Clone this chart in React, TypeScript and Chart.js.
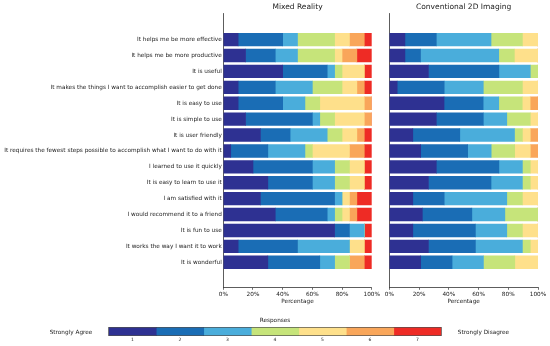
import React, { useEffect, useRef } from "react";
import { Chart, registerables } from "chart.js";

Chart.register(...registerables);

const FONT = "'DejaVu Sans', 'Liberation Sans', sans-serif";
const TEXT = "#222";
const AXIS = "#333";

// Statements (categories), top to bottom
const statements = [
  "It helps me be more effective",
  "It helps me be more productive",
  "It is useful",
  "It makes the things I want to accomplish easier to get done",
  "It is easy to use",
  "It is simple to use",
  "It is user friendly",
  "It requires the fewest steps possible to accomplish what I want to do with it",
  "I learned to use it quickly",
  "It is easy to learn to use it",
  "I am satisfied with it",
  "I would recommend it to a friend",
  "It is fun to use",
  "It works the way I want it to work",
  "It is wonderful",
];

const responseLevels = ["1", "2", "3", "4", "5", "6", "7"];
const levelColors = ["#2e3192", "#1a6db5", "#4aaddb", "#c6e47a", "#fee08b", "#f9a65a", "#ee2b25"];
const xTickValues = [0, 20, 40, 60, 80, 100];

const panelTitles = ["Mixed Reality", "Conventional 2D Imaging"];
const xAxisTitle = "Percentage";
const colorbarTitle = "Responses";
const agreeLabel = "Strongly Agree";
const disagreeLabel = "Strongly Disagree";

// Mixed Reality — percentage of responses per level (one array per level)
const mrLevel1 = [10, 15, 40, 10, 10, 15, 25, 5, 20, 30, 25, 35, 75, 10, 30];
const mrLevel2 = [30, 20, 30, 25, 30, 45, 20, 25, 40, 30, 50, 35, 10, 40, 35];
const mrLevel3 = [10, 15, 5, 25, 15, 5, 25, 25, 15, 15, 5, 5, 10, 35, 10];
const mrLevel4 = [25, 25, 5, 20, 10, 10, 10, 5, 10, 10, 0, 5, 0, 0, 10];
const mrLevel5 = [10, 5, 15, 10, 30, 20, 10, 25, 10, 10, 5, 5, 0, 10, 0];
const mrLevel6 = [10, 10, 0, 5, 5, 5, 5, 10, 0, 0, 5, 5, 0, 0, 10];
const mrLevel7 = [5, 10, 5, 5, 0, 0, 5, 5, 5, 5, 10, 10, 5, 5, 5];

// Conventional 2D Imaging — percentage of responses per level
const cvLevel1 = [10.5, 10.5, 26.3, 5.3, 36.8, 31.6, 15.8, 21.1, 31.6, 26.3, 15.8, 22.2, 15.8, 26.3, 21.1];
const cvLevel2 = [21.1, 10.5, 47.4, 31.6, 26.3, 31.6, 31.6, 31.6, 42.1, 42.1, 21.1, 33.3, 42.1, 31.6, 21.1];
const cvLevel3 = [36.8, 52.6, 21.1, 26.3, 10.5, 15.8, 36.8, 15.8, 15.8, 21.1, 42.1, 22.2, 21.1, 31.6, 21.1];
const cvLevel4 = [21.1, 10.5, 5.3, 26.3, 15.8, 15.8, 5.3, 15.8, 5.3, 5.3, 10.5, 22.2, 10.5, 5.3, 21.1];
const cvLevel5 = [10.5, 15.8, 0, 10.5, 5.3, 5.3, 5.3, 10.5, 5.3, 5.3, 10.5, 0, 10.5, 5.3, 15.8];
const cvLevel6 = [0, 0, 0, 0, 5.3, 0, 5.3, 5.3, 0, 0, 0, 0, 0, 0, 0];
const cvLevel7 = [0, 0, 0, 0, 0, 0, 0, 0, 0, 0, 0, 0, 0, 0, 0];

const mrSeries = [mrLevel1, mrLevel2, mrLevel3, mrLevel4, mrLevel5, mrLevel6, mrLevel7];
const cvSeries = [cvLevel1, cvLevel2, cvLevel3, cvLevel4, cvLevel5, cvLevel6, cvLevel7];

const panelTitlePlugin = {
  id: "panelTitle",
  afterDraw(chart: any, _args: any, opts: any) {
    const { ctx, chartArea } = chart;
    ctx.save();
    ctx.font = `7.5px ${FONT}`;
    ctx.fillStyle = TEXT;
    ctx.textAlign = "center";
    ctx.textBaseline = "middle";
    ctx.fillText(opts.text, (chartArea.left + chartArea.right) / 2, opts.y);
    ctx.restore();
  },
};

const colorbarDecorPlugin = {
  id: "colorbarDecor",
  afterDraw(chart: any) {
    const { ctx, chartArea } = chart;
    ctx.save();
    ctx.strokeStyle = AXIS;
    ctx.lineWidth = 0.6;
    ctx.strokeRect(chartArea.left, chartArea.top, chartArea.right - chartArea.left, chartArea.bottom - chartArea.top);
    ctx.font = `5.75px ${FONT}`;
    ctx.fillStyle = TEXT;
    ctx.textAlign = "center";
    ctx.textBaseline = "middle";
    const midY = (chartArea.top + chartArea.bottom) / 2;
    ctx.fillText(colorbarTitle, (chartArea.left + chartArea.right) / 2, chartArea.top - 7.3);
    ctx.fillText(agreeLabel, chartArea.left - 37.7, midY + 0.5);
    ctx.fillText(disagreeLabel, chartArea.right + 42.2, midY + 0.5);
    ctx.restore();
  },
};

function makePanel(canvas: HTMLCanvasElement, series: number[][], title: string, showLabels: boolean, yWidth: number, padRight: number) {
  return new Chart(canvas, {
    type: "bar",
    data: {
      datasets: responseLevels.map((lvl, k) => ({
        label: lvl,
        data: series[k].map((v, i) => ({ x: v, y: i })),
        backgroundColor: levelColors[k],
        borderWidth: 0,
        barThickness: 12.7,
      })),
    } as any,
    options: {
      indexAxis: "y",
      animation: false,
      responsive: false,
      events: [],
      layout: { padding: { left: 0, right: padRight, top: 13, bottom: 0 } },
      plugins: {
        legend: { display: false },
        tooltip: { enabled: false },
        panelTitle: { text: title, y: 7 },
      } as any,
      scales: {
        x: {
          type: "linear",
          stacked: true,
          min: 0,
          max: 100,
          position: "bottom",
          afterBuildTicks: (s: any) => {
            s.ticks = xTickValues.map((v) => ({ value: v }));
          },
          afterFit: (s: any) => {
            s.height = 22.7;
          },
          ticks: {
            callback: (v: any) => `${v}%`,
            font: { size: 5.75, family: FONT },
            color: TEXT,
            padding: 1,
            maxRotation: 0,
            autoSkip: false,
          },
          grid: { display: true, drawOnChartArea: false, tickLength: 2.5, color: AXIS, lineWidth: 0.7 },
          border: { display: true, color: AXIS, width: 0.8 },
          title: {
            display: true,
            text: xAxisTitle,
            font: { size: 5.75, family: FONT },
            color: TEXT,
            padding: { top: 0, bottom: 5.4 },
          },
        },
        y: {
          type: "linear",
          stacked: true,
          reverse: true,
          min: -1.1,
          max: 15,
          position: "left",
          afterBuildTicks: (s: any) => {
            s.ticks = statements.map((_, i) => ({ value: i }));
          },
          afterFit: (s: any) => {
            s.width = yWidth;
          },
          ticks: {
            display: showLabels,
            autoSkip: false,
            callback: (v: any) => statements[v as number] ?? "",
            font: { size: 5.75, family: FONT },
            color: TEXT,
            padding: 1.5,
          },
          grid: { display: false, drawTicks: false },
          border: { display: true, color: AXIS, width: 0.8 },
        },
      } as any,
    },
    plugins: [panelTitlePlugin],
  } as any);
}

function makeColorbar(canvas: HTMLCanvasElement) {
  return new Chart(canvas, {
    type: "bar",
    data: {
      labels: [colorbarTitle],
      datasets: responseLevels.map((lvl, k) => ({
        label: lvl,
        data: [1],
        backgroundColor: levelColors[k],
        borderWidth: 0,
        barPercentage: 1,
        categoryPercentage: 1,
      })),
    },
    options: {
      indexAxis: "y",
      animation: false,
      responsive: false,
      events: [],
      layout: { padding: { left: 108.7, right: 108.7, top: 15.3, bottom: 0 } },
      plugins: { legend: { display: false }, tooltip: { enabled: false } },
      scales: {
        x: {
          type: "linear",
          stacked: true,
          min: 0,
          max: 7,
          afterBuildTicks: (s: any) => {
            s.ticks = responseLevels.map((_, k) => ({ value: k + 0.5 }));
          },
          afterFit: (s: any) => {
            s.height = 10.3;
          },
          ticks: {
            callback: (_v: any, i: number) => responseLevels[i],
            font: { size: 4.5, family: FONT },
            color: TEXT,
            padding: 1.5,
            maxRotation: 0,
            autoSkip: false,
          },
          grid: { display: false, drawTicks: false },
          border: { display: false },
        },
        y: { stacked: true, display: false },
      } as any,
    },
    plugins: [colorbarDecorPlugin],
  } as any);
}

export default function App() {
  const leftRef = useRef<HTMLCanvasElement>(null);
  const rightRef = useRef<HTMLCanvasElement>(null);
  const barRef = useRef<HTMLCanvasElement>(null);

  useEffect(() => {
    const charts: Chart[] = [];
    if (leftRef.current) charts.push(makePanel(leftRef.current, mrSeries, panelTitles[0], true, 223.3, 13.3));
    if (rightRef.current) charts.push(makePanel(rightRef.current, cvSeries, panelTitles[1], false, 9.3, 12));
    if (barRef.current) charts.push(makeColorbar(barRef.current));
    return () => charts.forEach((c) => c.destroy());
  }, []);

  const abs = (left: number, top: number, width: number, height: number): React.CSSProperties => ({
    position: "absolute",
    left,
    top,
    width,
    height,
    display: "block",
  });

  return (
    <div style={{ position: "fixed", left: 0, top: 0, width: 550, height: 346, background: "#fff", overflow: "hidden" }}>
      <canvas ref={leftRef} width={385} height={310} style={abs(0, 0, 385, 310)} />
      <canvas ref={rightRef} width={170} height={310} style={abs(380, 0, 170, 310)} />
      <canvas ref={barRef} width={550} height={34} style={abs(0, 312, 550, 34)} />
    </div>
  );
}
